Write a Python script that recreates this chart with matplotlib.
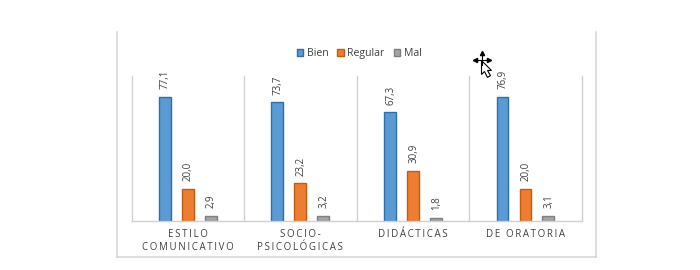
#!/usr/bin/env python
# coding=utf-8
"""Bar chart of Bien / Regular / Mal per competence group."""

import numpy as np
import matplotlib
matplotlib.use('Agg')
import matplotlib.pyplot as plt
from matplotlib.lines import Line2D
from matplotlib.patches import Polygon

categories = ['ESTILO\nCOMUNICATIVO', 'SOCIO-\nPSICOLÓGICAS', 'DIDÁCTICAS', 'DE ORATORIA']
series_names = ['Bien', 'Regular', 'Mal']
bien = [77.1, 73.7, 67.3, 76.9]
regular = [20.0, 23.2, 30.9, 20.0]
mal = [2.9, 3.2, 1.8, 3.1]

face_colors = ['#5B9BD5', '#ED7D31', '#A5A5A5']
edge_colors = ['#2F6EA8', '#C55A11', '#7F7F7F']

W, H = 700, 270
plt.rcParams['font.family'] = ['Open Sans', 'DejaVu Sans']

fig = plt.figure(figsize=(W / 100, H / 100), dpi=100)


def px_x(x):
    return x / W


def px_y(y):
    return 1 - y / H


# chart frame, open on top as in the screenshot
frame = '#D4D4D4'
for xs, ys in [([116.5, 116.5], [32, 257]), ([116.5, 596], [257, 257]), ([596, 596], [32, 257])]:
    fig.add_artist(Line2D([px_x(v) for v in xs], [px_y(v) for v in ys], color=frame, lw=1.1))

left, right, top, bottom = 131.5, 581.7, 76, 220.7
ax = fig.add_axes([px_x(left), px_y(bottom), (right - left) / W, (bottom - top) / H])
ax.set_xlim(0, 4)
ax.set_ylim(0, 90)
ax.set_yticks([])
ax.set_xticks(np.arange(5), minor=False)
ax.tick_params(axis='x', length=0, labelbottom=False)
ax.xaxis.grid(True, color='#D0D0D0', lw=1.0, clip_on=False)
ax.set_axisbelow(True)
for name in ['top', 'left', 'right']:
    ax.spines[name].set_visible(False)
ax.spines['bottom'].set_color('#D0D0D0')
ax.spines['bottom'].set_linewidth(1.0)

x = np.arange(len(categories)) + 0.5
offset = 0.204
width = 0.105
handles = []
for i, vals in enumerate([bien, regular, mal]):
    pos = x + (i - 1) * offset
    bars = ax.bar(pos, vals, width, color=face_colors[i], edgecolor=edge_colors[i],
                  linewidth=1.0, label=series_names[i], zorder=2)
    handles.append(bars)
    for px, v in zip(pos, vals):
        ax.annotate(('%.1f' % v).replace('.', ','), (px, v), xytext=(0.5, 5.5),
                    textcoords='offset points', rotation=90, ha='center', va='bottom',
                    fontsize=7.0, color='#404040')

# spaced out category labels
for xc, label in zip(x, categories):
    spaced = '\n'.join('\u2009'.join(line) for line in label.split('\n'))
    ax.annotate(spaced, (xc, 0), xytext=(0, -6), textcoords='offset points', ha='center',
                va='top', fontsize=7.0, color='#404040', linespacing=1.2)

fig.legend(handles=handles, labels=series_names, loc='center', ncol=3,
           bbox_to_anchor=(px_x(359), px_y(53.5)), frameon=False, fontsize=7.6,
           labelcolor='#404040', handlelength=0.6, handleheight=0.6,
           handletextpad=0.35, columnspacing=0.85)

# mouse cursor left in the screenshot
cx, cy = 481.5, 59.5
fig.add_artist(Line2D([px_x(cx - 7), px_x(cx + 7)], [px_y(cy), px_y(cy)], color='black', lw=0.8))
fig.add_artist(Line2D([px_x(cx), px_x(cx)], [px_y(cy - 7), px_y(cy + 5)], color='black', lw=0.8))
for mx, my, mk in [(cx - 7, cy, '<'), (cx + 7, cy, '>'), (cx, cy - 7, '^')]:
    fig.add_artist(Line2D([px_x(mx)], [px_y(my)], marker=mk, ms=3, color='black', lw=0))
arrow = [(0, 1), (0, 15), (3, 12), (6, 18), (9, 16), (6, 11), (10, 11)]
fig.add_artist(Polygon([(px_x(cx + a), px_y(cy + b)) for a, b in arrow], closed=True,
                       facecolor='white', edgecolor='black', lw=0.8,
                       transform=fig.transFigure))

fig.savefig('out.png', dpi=100)
